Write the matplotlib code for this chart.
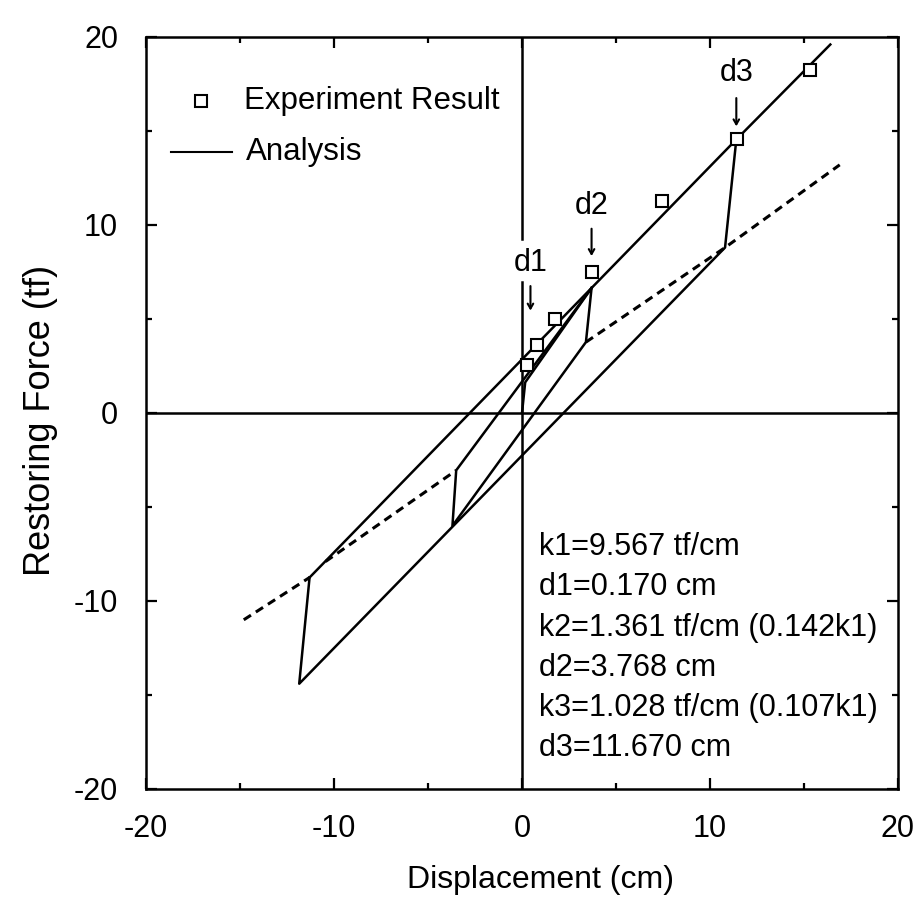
import matplotlib
matplotlib.use("Agg")
import matplotlib.pyplot as plt
from matplotlib.ticker import MultipleLocator

plt.rcParams['font.family'] = ['Liberation Sans', 'DejaVu Sans']
plt.rcParams['axes.unicode_minus'] = False

# ---- data ----
# experiment result (squares)
exp_x = [0.26, 0.78, 1.75, 3.71, 7.46, 11.41, 15.31]
exp_y = [2.57, 3.64, 5.02, 7.50, 11.27, 14.60, 18.25]

# skeleton curve: origin -> d1 -> d2
skel_x = [0.0, 0.17, 3.70]
skel_y = [0.0, 1.63, 6.65]

# long k3 line through d2 and d3
k3_up_x = [-11.30, 3.70, 11.40, 16.40]
k3_up_y = [-8.75, 6.65, 14.55, 19.60]

# large loop: unloading from d3 and return branch
big_loop_x = [11.40, 10.80, -11.85, -11.30]
big_loop_y = [14.55, 8.80, -14.40, -8.75]

# small loop around d2
small_loop_x = [3.70, 3.40, -3.70, -3.50, 3.70]
small_loop_y = [6.65, 3.77, -6.00, -3.05, 6.65]

# dashed lines
dash1_x = [-14.80, -11.30]
dash1_y = [-11.00, -8.75]
dash2_x = [-10.45, -3.50]
dash2_y = [-7.90, -3.05]
dash3_x = [3.40, 10.80, 16.90]
dash3_y = [3.77, 8.80, 13.20]

# annotation labels
marks = ["d1", "d2", "d3"]
mark_x = [0.45, 3.70, 11.40]
mark_text_y = [8.0, 11.0, 18.1]
mark_arrow_top = [6.9, 9.95, 16.9]
mark_arrow_bot = [5.3, 8.2, 15.1]

params = ["k1=9.567 tf/cm", "d1=0.170 cm", "k2=1.361 tf/cm (0.142k1)",
          "d2=3.768 cm", "k3=1.028 tf/cm (0.107k1)", "d3=11.670 cm"]

xticks = [-20, -10, 0, 10, 20]
yticks = [-20, -10, 0, 10, 20]

# ---- figure ----
fig = plt.figure(figsize=(9.23, 9.24), dpi=100)
ax = fig.add_axes([146/923, 1-789/924, 752/923, 752/924])
ax.set_xlim(-20, 20)
ax.set_ylim(-20, 20)

lw = 1.8
col = 'black'

# zero lines
ax.axhline(0, color=col, lw=lw)
ax.plot([0, 0], [20, 9.25], color=col, lw=lw)
ax.plot([0, 0], [6.95, -20], color=col, lw=lw)

ax.plot(skel_x, skel_y, color=col, lw=lw)
ax.plot(k3_up_x, k3_up_y, color=col, lw=lw)
ax.plot(big_loop_x, big_loop_y, color=col, lw=lw)
ax.plot(small_loop_x, small_loop_y, color=col, lw=lw)

for dx, dy in [(dash1_x, dash1_y), (dash2_x, dash2_y), (dash3_x, dash3_y)]:
    ax.plot(dx, dy, color=col, lw=2.2, dashes=(2.8, 1.9))

ax.plot(exp_x, exp_y, linestyle='none', marker='s', markersize=8.5,
        markerfacecolor='white', markeredgecolor=col, markeredgewidth=1.5)

for m, mx, ty, at, ab in zip(marks, mark_x, mark_text_y, mark_arrow_top, mark_arrow_bot):
    ax.text(mx, ty, m, fontsize=22, ha='center', va='center')
    ax.annotate('', xy=(mx, ab), xytext=(mx, at),
                arrowprops=dict(arrowstyle='->,head_length=0.35,head_width=0.2',
                                color=col, lw=1.5))

# legend (drawn manually)
ax.plot([-17.05], [16.6], linestyle='none', marker='s', markersize=8,
        markerfacecolor='white', markeredgecolor=col, markeredgewidth=1.5)
ax.text(-14.8, 16.6, "Experiment Result", fontsize=22.5, ha='left', va='center')
ax.plot([-18.65, -15.45], [13.9, 13.9], color=col, lw=1.5)
ax.text(-14.7, 13.9, "Analysis", fontsize=22.5, ha='left', va='center')

# parameter block
for i, t in enumerate(params):
    ax.text(0.9, -7.13 - 2.14 * i, t, fontsize=22, ha='left', va='center')

# axes styling
for s in ax.spines.values():
    s.set_linewidth(1.8)
ax.set_xticks(xticks)
ax.set_yticks(yticks)
ax.xaxis.set_minor_locator(MultipleLocator(5))
ax.yaxis.set_minor_locator(MultipleLocator(5))
ax.tick_params(which='both', direction='in', top=True, right=True, width=1.6)
ax.tick_params(which='major', length=8)
ax.tick_params(which='minor', length=4)
ax.tick_params(axis='x', which='major', labelsize=22, pad=18)
ax.tick_params(axis='y', which='major', labelsize=22, pad=20)

ax.set_xlabel("Displacement (cm)", fontsize=23)
ax.set_ylabel("Restoring Force (tf)", fontsize=26)
ax.xaxis.label.set_va('center')
ax.yaxis.label.set_va('center')
ax.xaxis.set_label_coords(0.525, -0.121)
ax.yaxis.set_label_coords(-0.14, 0.49)

fig.savefig("out.png", dpi=100)
